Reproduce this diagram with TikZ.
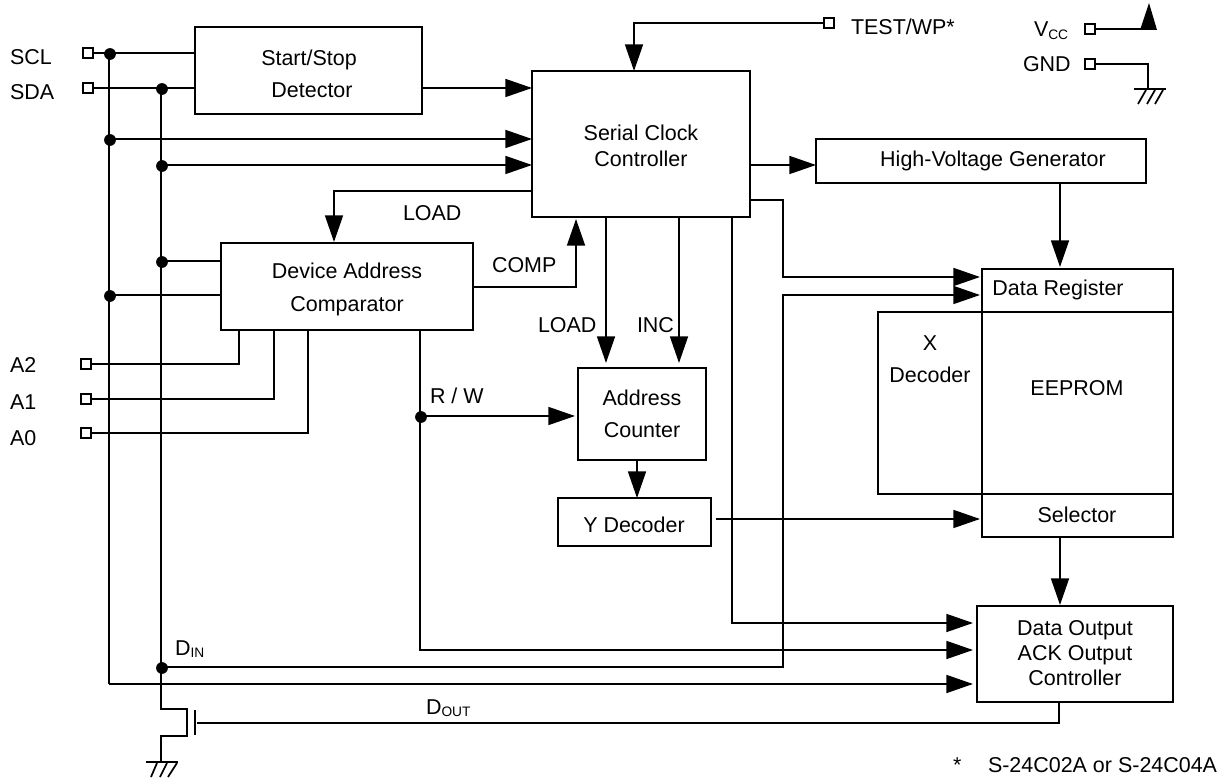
\documentclass[tikz,border=0pt]{standalone}
\usepackage{fontspec}
\setmainfont{Liberation Sans}
\usetikzlibrary{arrows.meta}
\newcommand{\sbs}[1]{\raisebox{-2.2pt}{\fontsize{10.3}{11}\selectfont #1}}
\newcommand{\lead}[1]{\fontsize{16.1}{#1}\selectfont}
\tikzset{
  wire/.style={line width=1.3pt,line join=miter},
  arrowwire/.style={wire,-{Triangle[length=20pt,width=13.5pt]}},
  blockbox/.style={draw,line width=1.45pt,inner sep=0pt,outer sep=0pt},
  label/.style={inner sep=0pt,outer sep=0pt,font=\lead{24pt},align=center},
  pinleft/.style={label,anchor=base west},
  pinbox/.style={draw,line width=1.4pt,fill=white,minimum size=7.5pt,inner sep=0pt,outer sep=0pt},
  dotj/.style={circle,fill=black,minimum size=8.8pt,inner sep=0pt,outer sep=0pt},
}
\begin{document}
\begin{tikzpicture}[x=0.75pt,y=-0.75pt]
\useasboundingbox (0,0) rectangle (1225,780);
% blocks
\node[blockbox,minimum width=170.25pt,minimum height=65.25pt] (ssd) at (308.5,70.5) {};
\node[blockbox,minimum width=163.5pt,minimum height=109.5pt] (scc) at (641,144) {};
\node[blockbox,minimum width=247.5pt,minimum height=33pt] (hvg) at (981,161) {};
\node[blockbox,minimum width=189pt,minimum height=65.25pt] (dac) at (347,286.5) {};
\node[blockbox,minimum width=96pt,minimum height=69pt] (cnt) at (642,414) {};
\node[blockbox,minimum width=114.75pt,minimum height=36pt] (ydec) at (634.5,522) {};
\node[blockbox,minimum width=78pt,minimum height=136.5pt] (xdec) at (930,403) {};
\node[blockbox,minimum width=143.25pt,minimum height=32.25pt] (dreg) at (1077.5,290.5) {};
\node[blockbox,minimum width=143.25pt,minimum height=136.5pt] (eep) at (1077.5,403) {};
\node[blockbox,minimum width=143.25pt,minimum height=32.25pt] (sel) at (1077.5,515.5) {};
\node[blockbox,minimum width=147pt,minimum height=72pt] (dout) at (1075,654) {};
% block texts
\node[label] (tssd) at (309,74) {Start/Stop\\\hspace{4.5pt}Detector};
\node[label,font=\lead{19.5pt}] (tscc) at (641,145.5) {Serial Clock\\Controller};
\node[label] (thvg) at (993,161) {High-Voltage Generator};
\node[label,font=\lead{24.75pt}] (tdac) at (347,289.5) {Device Address\\Comparator};
\node[label] (tcnt) at (642,414) {Address\\Counter};
\node[label] (tydec) at (634,525) {Y Decoder};
\node[label,font=\lead{18.75pt}] (tdout) at (1075,653) {Data Output\\ACK Output\\Controller};
\node[label] (tdreg) at (1058,290) {Data Register};
\node[label] (txdec) at (930,359) {X\\Decoder};
\node[label] (teep) at (1077,388) {EEPROM};
\node[label] (tsel) at (1077,515) {Selector};
% pins
\node[pinbox] (pscl) at (88,53) {};
\node[pinbox] (psda) at (88,88) {};
\node[pinbox] (pa2) at (86,364) {};
\node[pinbox] (pa1) at (86,399) {};
\node[pinbox] (pa0) at (86,433) {};
\node[pinbox] (ptest) at (829,23) {};
\node[pinbox] (pvcc) at (1090,29) {};
\node[pinbox] (pgnd) at (1090,64) {};
% pin labels
\node[pinleft] (lscl) at (10,65) {SCL};
\node[pinleft] (lsda) at (10,100) {SDA};
\node[pinleft] (la2) at (10,373) {A2};
\node[pinleft] (la1) at (10,410) {A1};
\node[pinleft] (la0) at (10,446) {A0};
\node[pinleft] (ltest) at (851,35) {TEST/WP*};
\node[pinleft] (lvcc) at (1034,37) {V\sbs{CC}};
\node[pinleft] (lgnd) at (1023,72) {GND};
% signal labels
\node[pinleft] (lload1) at (403,221) {LOAD};
\node[pinleft] (lcomp) at (492,273) {COMP};
\node[pinleft] (lload2) at (538,333) {LOAD};
\node[pinleft] (linc) at (637,333) {INC};
\node[pinleft] (lrw) at (430,404) {R / W};
\node[pinleft] (ldin) at (175,655) {D\sbs{IN}};
\node[pinleft] (ldout) at (426,714) {D\sbs{OUT}};
\node[pinleft] (lstar) at (953,772) {*};
\node[pinleft] (lnote) at (988,772) {S-24C02A or S-24C04A};
% junctions
\coordinate (tscl) at (109,53);
\coordinate (tsda) at (161,88);
\coordinate (j1) at (109,139);
\coordinate (j2) at (161,165);
\coordinate (j3) at (161,261);
\coordinate (j4) at (109,295);
\coordinate (jdin) at (161,667);
\coordinate (jack) at (109,684);
\coordinate (jrw) at (420,416);
\coordinate (gnd1) at (161,762);
\coordinate (gnd2) at (1148,89);
% buses
\draw[wire] (pscl) -- (ssd.west |- pscl);
\draw[wire] (psda) -- (ssd.west |- psda);
\draw[wire] (tscl) -- (jack);
\draw[wire] (tsda) -- (161,709) -- (187,709) -- (187,736) -- (161,736) -- (gnd1);
% serial clock controller
\draw[arrowwire] (ssd.east |- 0,88) -- (scc.west |- 0,88);
\draw[arrowwire] (j1) -- (scc.west |- j1);
\draw[arrowwire] (j2) -- (scc.west |- j2);
\draw[arrowwire] (ptest) -- (634,23) -- (scc.north -| 634,0);
\draw[arrowwire] (scc.east |- 0,165) -- (hvg.west |- 0,165);
\draw[arrowwire,shorten >=1.5pt] (hvg.south -| 1060,0) -- (dreg.north -| 1060,0);
\draw[arrowwire,shorten >=0.75pt] (scc.west |- 0,191) -- (334,191) -- (dac.north -| 334,0);
\draw[arrowwire,shorten >=1.5pt] (dac.east |- 0,287) -- (576,287) -- (scc.south -| 576,0);
\draw[wire] (j3) -- (dac.west |- j3);
\draw[wire] (j4) -- (dac.west |- j4);
\draw[wire] (pa2) -- (239,364) -- (dac.south -| 239,0);
\draw[wire] (pa1) -- (274,399) -- (dac.south -| 274,0);
\draw[wire] (pa0) -- (308,433) -- (dac.south -| 308,0);
\draw[arrowwire,shorten >=3.75pt] (scc.south -| 606,0) -- (cnt.north -| 606,0);
\draw[arrowwire,shorten >=3.75pt] (scc.south -| 679,0) -- (cnt.north -| 679,0);
\draw[arrowwire,shorten >=2.25pt] (jrw) -- (cnt.west |- jrw);
\draw[wire] (dac.south -| jrw) -- (jrw);
\draw[arrowwire,shorten >=3pt] (jrw) -- (420,650) -- (dout.west |- 0,650);
\draw[arrowwire] (cnt.south -| 637,0) -- (ydec.north -| 637,0);
\draw[arrowwire,shorten >=1.5pt] ([xshift=3.75pt]ydec.east |- 0,519) -- (sel.west |- 0,519);
\draw[arrowwire,shorten >=0.75pt] (sel.south -| 1060,0) -- (dout.north -| 1060,0);
\draw[arrowwire,shorten >=1.5pt] (scc.east |- 0,200) -- (783,200) -- (783,277) -- (dreg.west |- 0,277);
\draw[arrowwire,shorten >=1.5pt] (jdin) -- (783,667) -- (783,295) -- (dreg.west |- 0,295);
\draw[arrowwire,shorten >=3pt] (scc.south -| 732,0) -- (732,623) -- (dout.west |- 0,623);
\draw[arrowwire,shorten >=3pt] (jack) -- (dout.west |- jack);
% output transistor
\draw[wire] (dout.south -| 1059,0) -- (1059,723) -- (197,723);
\draw[wire] (195,710) -- (195,735);
% grounds
\draw[wire] (146,762) -- (178,762);
\draw[wire] (157,763) -- (151,777) (167,763) -- (160,777) (177,763) -- (168,777);
\draw[wire] (pgnd) -- (1148,64) -- (gnd2);
\draw[wire] (1134,89) -- (1166,89);
\draw[wire] (1146,90) -- (1138,104) (1155,90) -- (1147,104) (1163,90) -- (1155,104);
% vcc
\draw[wire] (pvcc) -- (1148,29);
\fill (1140,30) -- (1149,3) -- (1157,30) -- cycle;
% dots
\foreach \c in {tscl,tsda,j1,j2,j3,j4,jdin,jrw}{\node[dotj,xshift=0.75pt,yshift=-0.75pt] at (\c) {};}
\end{tikzpicture}
\end{document}
